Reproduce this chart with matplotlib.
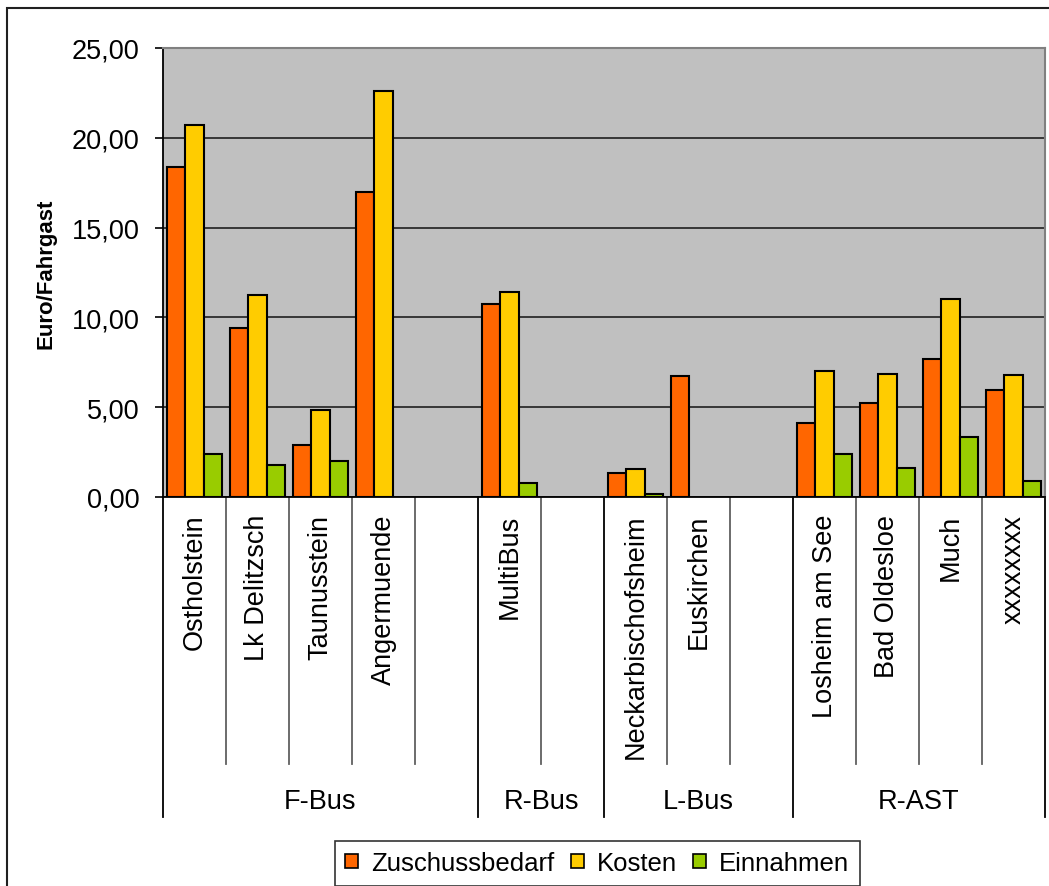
import numpy as np
import matplotlib
matplotlib.use("Agg")
import matplotlib.pyplot as plt
from matplotlib.patches import Patch, Rectangle
from matplotlib.lines import Line2D

plt.rcParams['font.family'] = ['Liberation Sans', 'DejaVu Sans']

# slots, blanks separate the groups
labels = ['Ostholstein', 'Lk Delitzsch', 'Taunusstein', 'Angermuende', '',
          'MultiBus', '',
          'Neckarbischofsheim', 'Euskirchen', '',
          'Losheim am See', 'Bad Oldesloe', 'Much', 'xxxxxxxx']
groups = ['F-Bus', 'R-Bus', 'L-Bus', 'R-AST']
group_sizes = [5, 2, 3, 4]

nan = np.nan
zuschuss = [18.35, 9.40, 2.87, 17.00, nan, 10.72, nan, 1.35, 6.71, nan, 4.12, 5.25, 7.66, 5.93]
kosten = [20.72, 11.22, 4.86, 22.63, nan, 11.39, nan, 1.54, nan, nan, 6.99, 6.86, 11.00, 6.79]
einnahmen = [2.37, 1.80, 2.00, nan, nan, 0.76, nan, 0.18, nan, nan, 2.41, 1.63, 3.34, 0.87]

series = [('Zuschussbedarf', zuschuss, '#FF6600'),
          ('Kosten', kosten, '#FFCC00'),
          ('Einnahmen', einnahmen, '#99CC00')]

W, H = 1049, 887
fig = plt.figure(figsize=(W / 100, H / 100), dpi=100)
ax = fig.add_axes([163 / W, 1 - 498 / H, (1045 - 163) / W, (498 - 49) / H])
ax.set_facecolor('#C0C0C0')

x = np.arange(len(labels)) + 0.5
w = 1 / 3.4
for k, (name, vals, col) in enumerate(series):
    ax.bar(x + (k - 1) * w, vals, w, color=col, edgecolor='black',
           linewidth=1.5, zorder=3)

ax.set_xlim(0, len(labels))
ax.set_ylim(0, 25)
ax.set_yticks(np.arange(0, 26, 5))
ax.set_yticklabels([f'{v:.2f}'.replace('.', ',') for v in np.arange(0, 26, 5)],
                   fontsize=19.5)
ax.tick_params(axis='y', length=6, width=1.2, pad=11, colors='black')
ax.set_xticks(x)
ax.set_xticklabels(labels, rotation=90, fontsize=19.5)
ax.tick_params(axis='x', length=0, pad=12)
ax.yaxis.grid(True, color='#202020', linewidth=1.2, zorder=1)
ax.set_axisbelow(True)

for s in ['left', 'bottom']:
    ax.spines[s].set_color('black')
    ax.spines[s].set_linewidth(1.3)
for s in ['top', 'right']:
    ax.spines[s].set_color('#808080')
    ax.spines[s].set_linewidth(1.5)

ax.set_ylabel('Euro/Fahrgast', fontsize=16, fontweight='bold', labelpad=11)

# separator lines below the axis
ax_h = 498 - 49
trans = ax.get_xaxis_transform()
bounds = np.cumsum([0] + group_sizes)
for b in range(1, len(labels)):
    if b not in bounds:
        ax.add_line(Line2D([b, b], [0, -267 / ax_h], transform=trans,
                           color='#606060', linewidth=1.3, clip_on=False))
for b in bounds:
    ax.add_line(Line2D([b, b], [0, -320 / ax_h], transform=trans,
                       color='black', linewidth=1.3, clip_on=False))
for g, a, b in zip(groups, bounds[:-1], bounds[1:]):
    ax.annotate(g, xy=((a + b) / 2, 0), xycoords=('data', 'axes fraction'),
                xytext=(0, -304), textcoords='offset pixels',
                ha='center', va='center', fontsize=19.5)

handles = [Patch(facecolor=c, edgecolor='black', linewidth=1.2) for _, _, c in series]
leg = fig.legend(handles, [n for n, _, _ in series], ncol=3, fontsize=18.5,
                 loc='upper left', bbox_to_anchor=(335 / W, 1 - 842 / H),
                 frameon=True, fancybox=False, edgecolor='black',
                 handlelength=0.5, handleheight=0.5, handletextpad=0.5,
                 columnspacing=0.65, borderpad=0.4, borderaxespad=0)
leg.get_frame().set_linewidth(1.2)

# outer chart frame
fig.add_artist(Rectangle((7 / W, -0.05), 1.1, 1 - 9 / H + 0.05,
                         transform=fig.transFigure, fill=False,
                         edgecolor='#202020', linewidth=1.5, clip_on=False))

fig.savefig('out.png', dpi=100)
